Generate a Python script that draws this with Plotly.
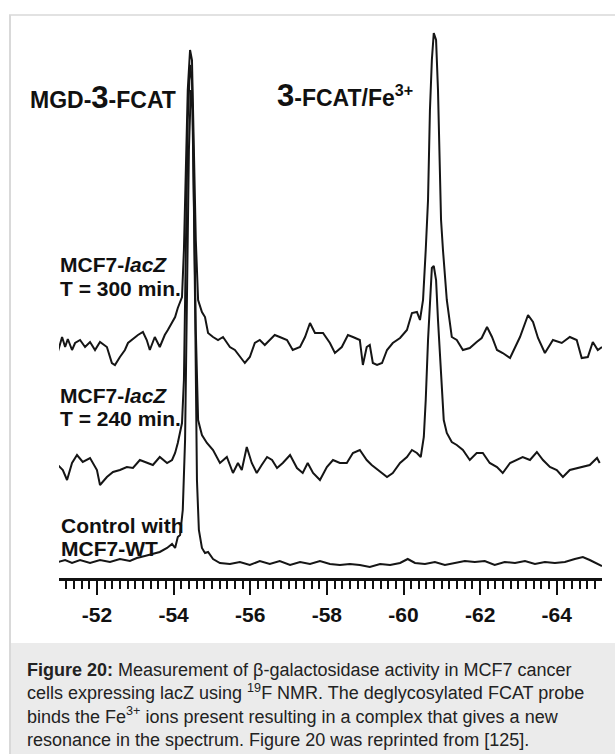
import plotly.graph_objects as go

# ---- data: chemical shift (ppm) and intensity (a.u., baseline = 0) ----
ppm_300 = [-50.98, -51.09, -51.17, -51.24, -51.35, -51.43, -51.56, -51.69, -51.82, -51.95,
           -52.08, -52.26, -52.39, -52.47, -52.60, -52.73, -52.81, -52.94, -53.07, -53.20,
           -53.30, -53.38, -53.51, -53.64, -53.77, -53.85, -53.96, -54.04, -54.11, -54.22,
           -54.27, -54.32, -54.37, -54.43, -54.48, -54.53, -54.58, -54.64, -54.74, -54.82,
           -54.90, -55.03, -55.16, -55.29, -55.47, -55.60, -55.73, -55.86, -55.99, -56.12,
           -56.25, -56.38, -56.51, -56.64, -56.77, -56.96, -57.11, -57.30, -57.43, -57.56,
           -57.69, -57.90, -58.08, -58.21, -58.39, -58.55, -58.68, -58.86, -58.94, -59.04,
           -59.12, -59.20, -59.31, -59.44, -59.57, -59.72, -59.91, -60.09, -60.22, -60.35,
           -60.43, -60.51, -60.58, -60.64, -60.69, -60.74, -60.79, -60.85, -60.90, -60.95,
           -60.98, -61.03, -61.13, -61.26, -61.39, -61.55, -61.73, -61.91, -62.04, -62.18,
           -62.31, -62.44, -62.59, -62.78, -62.91, -63.04, -63.25, -63.38, -63.51, -63.69,
           -63.90, -64.13, -64.34, -64.52, -64.65, -64.81, -64.94, -65.07, -65.18]
int_300 = [-5, 10, 0, 8, -3, 4, 7, 0, 5, -3,
           5, 0, -16, -18, -10, -3, 4, 8, 12, 15,
           7, -3, 10, 0, 12, 17, 25, 30, 39, 50,
           97, 167, 257, 297, 287, 197, 107, 47, 35, 30,
           14, 10, 7, 10, 0, -3, -10, -16, -10, 4,
           7, 2, 7, 12, 10, 7, -3, 0, 10, 24,
           14, 14, 4, -6, 0, 12, 10, 7, -18, 0,
           2, -16, -18, -16, -3, 4, 9, 17, 34, 35,
           27, 47, 97, 147, 237, 287, 314, 307, 257, 177,
           127, 97, 47, 10, 7, -3, -1, 5, 9, 20,
           10, -3, -6, -11, 0, 10, 32, 25, 9, -6,
           7, 4, 10, 7, -11, -10, 5, -3, 0]

ppm_240 = [-50.98, -51.11, -51.22, -51.35, -51.48, -51.63, -51.82, -52.00, -52.08, -52.26,
           -52.42, -52.60, -52.78, -52.94, -53.12, -53.30, -53.46, -53.64, -53.83, -53.96,
           -54.04, -54.11, -54.22, -54.27, -54.32, -54.37, -54.43, -54.48, -54.53, -54.58,
           -54.64, -54.74, -54.87, -55.03, -55.21, -55.39, -55.55, -55.68, -55.78, -55.91,
           -56.04, -56.17, -56.30, -56.44, -56.57, -56.70, -56.85, -57.04, -57.22, -57.37,
           -57.50, -57.64, -57.82, -58.00, -58.16, -58.34, -58.52, -58.68, -58.86, -59.04,
           -59.17, -59.33, -59.57, -59.72, -59.91, -60.09, -60.22, -60.35, -60.45, -60.53,
           -60.58, -60.64, -60.69, -60.74, -60.79, -60.85, -60.90, -60.95, -61.00, -61.05,
           -61.13, -61.26, -61.39, -61.55, -61.73, -61.91, -62.07, -62.25, -62.44, -62.59,
           -62.78, -62.96, -63.11, -63.30, -63.48, -63.64, -63.82, -64.00, -64.16, -64.34,
           -64.52, -64.68, -64.86, -65.05, -65.12]
int_240 = [0, -5, -15, 2, 10, 3, 7, -5, -20, -12,
           -7, -5, -2, -3, 5, 2, 0, 8, 2, 5,
           12, 22, 42, 85, 215, 345, 400, 385, 265, 135,
           45, 30, 22, 15, 2, 8, -8, 2, -5, 18,
           2, -8, 0, 8, 5, -3, 2, 10, -3, -8,
           2, -8, -15, -2, 5, 2, 2, 12, 15, 5,
           0, -5, -12, -8, 2, 8, 15, 12, 8, 28,
           65, 125, 165, 197, 199, 185, 145, 115, 75, 45,
           32, 23, 20, 15, 5, 12, 12, 2, -2, -8,
           2, 5, 8, 5, 13, 5, -2, -5, -12, -5,
           -3, -2, 0, 7, 2]

ppm_wt = [-50.98, -51.17, -51.35, -51.56, -51.82, -52.08, -52.34, -52.60, -52.86, -53.04,
          -53.25, -53.46, -53.64, -53.83, -53.96, -54.04, -54.11, -54.17, -54.24, -54.30,
          -54.35, -54.40, -54.45, -54.50, -54.56, -54.61, -54.66, -54.74, -54.82, -54.90,
          -55.03, -55.21, -55.47, -55.73, -55.99, -56.25, -56.51, -56.77, -57.04, -57.30,
          -57.56, -57.82, -58.08, -58.34, -58.60, -58.86, -59.12, -59.39, -59.65, -59.91,
          -60.11, -60.30, -60.56, -60.82, -61.08, -61.34, -61.60, -61.86, -62.12, -62.38,
          -62.64, -62.91, -63.17, -63.43, -63.69, -63.95, -64.21, -64.47, -64.68, -64.86,
          -65.05, -65.18]
int_wt = [0, 2, -1, 2, -1, 2, 0, 3, 1, 4,
          6, 8, 10, 14, 18, 14, 25, 27, 52, 122,
          262, 412, 472, 452, 262, 82, 32, 14, 9, 10,
          3, -1, -2, 0, -3, 1, -2, 1, -3, 0,
          -2, 1, -2, -3, -2, -3, -5, -2, -3, -1,
          3, -1, -2, 0, -3, -1, 1, 0, 1, -3,
          0, -1, 1, -2, 0, -1, 0, 3, 5, 2,
          -2, -4]

# vertical stacking offsets of the three spectra (a.u.)
offset_300 = 231
offset_240 = 113
offset_wt = 16

tick_values = [-52, -54, -56, -58, -60, -62, -64]
tick_labels = ["-52", "-54", "-56", "-58", "-60", "-62", "-64"]

# ---- layout geometry (pixels) ----
W, H = 615, 754
L, R, T, B = 59, 602, 20, 578


def P(px, py):
    return (px - L) / (R - L), (B - py) / (B - T)


LINE = dict(color="#151515", width=2)
fig = go.Figure()
for xs, ys, off in [(ppm_300, int_300, offset_300),
                    (ppm_240, int_240, offset_240),
                    (ppm_wt, int_wt, offset_wt)]:
    fig.add_trace(go.Scatter(x=xs, y=[v + off for v in ys], mode="lines",
                             line=LINE, hoverinfo="skip"))

LBL = dict(family="Liberation Sans, Arial, sans-serif", size=21, color="#111")
anns = []


def add_text(txt, px, py, font=LBL, xanchor="left", yanchor="middle", align="left"):
    x, y = P(px, py)
    anns.append(dict(text=txt, x=x, y=y, xref="paper", yref="paper", showarrow=False,
                     xanchor=xanchor, yanchor=yanchor, align=align, font=font))


big = '<span style="font-size:31px">3</span>'
add_text("<b>MGD-" + big + "-FCAT</b>", 28, 97, font=dict(LBL, size=23))
add_text("<b>" + big + "-FCAT/Fe<sup>3+</sup></b>", 275, 95, font=dict(LBL, size=23))
add_text("<b>MCF7-<i>lacZ</i></b>", 58, 264)
add_text("<b>T = 300 min.</b>", 58, 288)
add_text("<b>MCF7-<i>lacZ</i></b>", 58, 395)
add_text("<b>T = 240 min.</b>", 58, 418)
add_text("<b>Control with</b>", 59, 525)
add_text("<b>MCF7-WT</b>", 59, 548)

caption = ("<b>Figure 20:</b> Measurement of β-galactosidase activity in MCF7 cancer<br>"
           "cells expressing lacZ using <sup>19</sup>F NMR. The deglycosylated FCAT probe<br>"
           "binds the Fe<sup>3+</sup> ions present resulting in a complex that gives a new<br>"
           "resonance in the spectrum. Figure 20 was reprinted from [125].")
add_text(caption, 25, 658, font=dict(family="Liberation Sans, Arial, sans-serif", size=18, color="#222"),
         yanchor="top")

shapes = []
x0, y0 = P(11, 643)
x1, y1 = P(W, H)
shapes.append(dict(type="rect", xref="paper", yref="paper", x0=x0, y0=y0, x1=x1, y1=y1,
                   fillcolor="#ebebeb", line=dict(width=0), layer="below"))
x0, y0 = P(9, 15)
x1, y1 = P(W, 15)
shapes.append(dict(type="line", xref="paper", yref="paper", x0=x0, y0=y0, x1=x1, y1=y1,
                   line=dict(color="#d9d9d9", width=1.5)))
x0, y0 = P(10, 15)
x1, y1 = P(10, H)
shapes.append(dict(type="line", xref="paper", yref="paper", x0=x0, y0=y0, x1=x1, y1=y1,
                   line=dict(color="#d9d9d9", width=2)))

fig.update_layout(
    width=W, height=H,
    margin=dict(l=L, r=W - R, t=T, b=H - B, pad=0),
    paper_bgcolor="white", plot_bgcolor="white",
    showlegend=False,
    annotations=anns, shapes=shapes,
    xaxis=dict(range=[-51.01, -65.18], showgrid=False, zeroline=False,
               showline=True, linecolor="#111", linewidth=2.5,
               ticks="outside", ticklen=14, tickwidth=2, tickcolor="#111",
               tickvals=tick_values, ticktext=tick_labels, ticklabelstandoff=2,
               tickfont=dict(family="Liberation Sans, Arial, sans-serif", size=21,
                             color="#111", weight="bold"),
               minor=dict(dtick=0.2, tick0=-52, ticks="outside", ticklen=8,
                          tickwidth=1.5, tickcolor="#111", showgrid=False)),
    yaxis=dict(range=[0, B - T], visible=False, fixedrange=True),
)

fig.write_html("out.html")
